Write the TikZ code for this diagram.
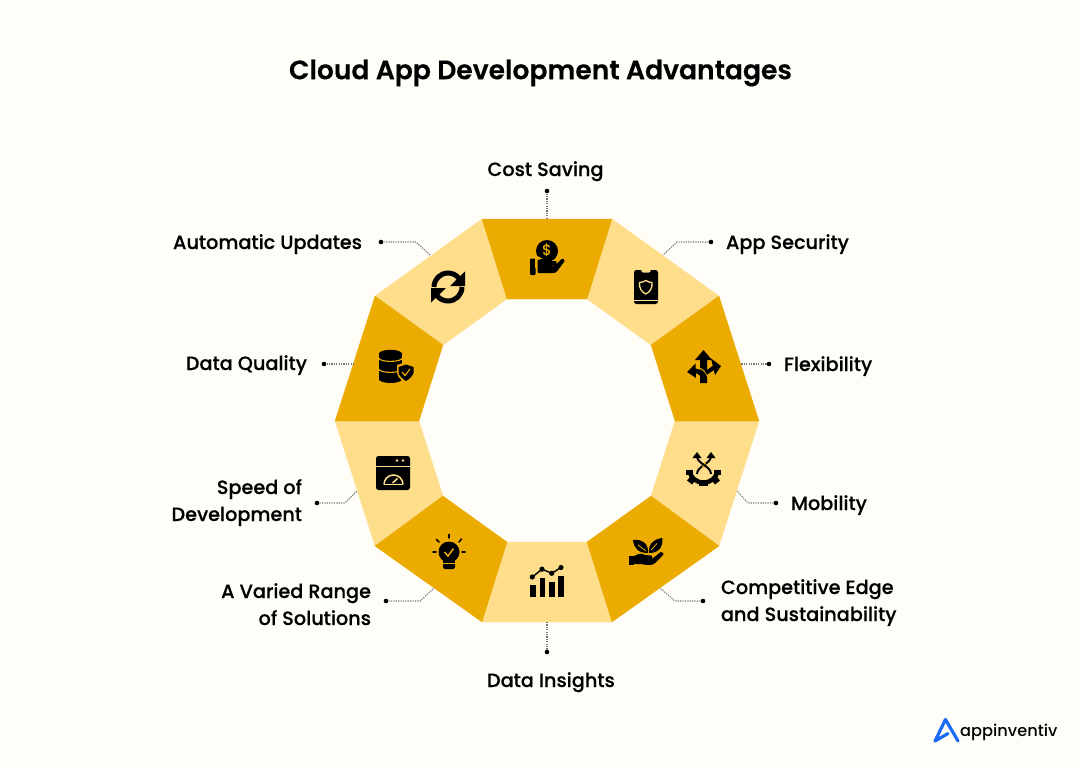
\documentclass[tikz,border=0pt]{standalone}
\usepackage{fontspec}
\setmainfont{Poppins}
\newfontfamily\labfont[FakeBold=0.25]{Poppins Medium}
\newfontfamily\brandfont{Poppins Medium}
\newfontfamily\ttlfont[FakeBold=0.3]{Poppins SemiBold}
\definecolor{bgc}{HTML}{FFFDF7}
\definecolor{darkseg}{HTML}{EBAB00}
\definecolor{lightseg}{HTML}{FEDD8B}
\definecolor{bluelogo}{HTML}{1A6CF6}
\definecolor{leader}{HTML}{777777}
\tikzset{
  x=1pt,y=-1pt,
  lab/.style={font=\labfont\fontsize{19.25}{27}\selectfont,text=black,inner sep=0pt,outer sep=0pt},
  seglight/.style={fill=lightseg,draw=lightseg,line width=0.2pt},
  segdark/.style={fill=darkseg,draw=darkseg,line width=0.2pt},
  pin/.style={circle,fill=black,inner sep=0pt,minimum size=4.6pt},
  leadline/.style={draw=leader,line width=1.1pt,dash pattern=on 1.2pt off 1.2pt},
  ico/.style={fill=black,draw=none},
}
\begin{document}
\begin{tikzpicture}
\useasboundingbox (0,0) rectangle (1080,768);
\fill[bgc] (0,0) rectangle (1080,768);
% ring vertices
\coordinate (o0) at (482,219);\coordinate (o1) at (612,219);\coordinate (o2) at (719,296);
\coordinate (o3) at (759,421);\coordinate (o4) at (719,546);\coordinate (o5) at (612,622);
\coordinate (o6) at (482,622);\coordinate (o7) at (375,546);\coordinate (o8) at (335,421);
\coordinate (o9) at (375,296);
\coordinate (i0) at (507,299);\coordinate (i1) at (587,299);\coordinate (i2) at (651,345);
\coordinate (i3) at (675,421);\coordinate (i4) at (651,496);\coordinate (i5) at (587,542);
\coordinate (i6) at (507,542);\coordinate (i7) at (443,496);\coordinate (i8) at (419,421);
\coordinate (i9) at (443,345);
\path[seglight] (o1)--(o2)--(i2)--(i1)--cycle;
\path[seglight] (o3)--(o4)--(i4)--(i3)--cycle;
\path[seglight] (o5)--(o6)--(i6)--(i5)--cycle;
\path[seglight] (o7)--(o8)--(i8)--(i7)--cycle;
\path[seglight] (o9)--(o0)--(i0)--(i9)--cycle;
\path[segdark] (o0)--(o1)--(i1)--(i0)--cycle;
\path[segdark] (o2)--(o3)--(i3)--(i2)--cycle;
\path[segdark] (o4)--(o5)--(i5)--(i4)--cycle;
\path[segdark] (o6)--(o7)--(i7)--(i6)--cycle;
\path[segdark] (o8)--(o9)--(i9)--(i8)--cycle;
% title
\node[inner sep=0pt,font=\ttlfont\fontsize{26.6}{32}\selectfont,text=black] (title) at (540.5,73) {Cloud App Development Advantages};
% labels
\node[lab,anchor=base] (l0) at (545.5,176) {Cost Saving};
\node[lab,anchor=base west] (l1) at (726,249) {App Security};
\node[lab,anchor=base west] (l2) at (784,371) {Flexibility};
\node[lab,anchor=base west] (l3) at (791,510) {Mobility};
\node[lab,anchor=base west] (l4a) at (721,594) {Competitive Edge};
\node[lab,anchor=base west] (l4b) at (721,621) {and Sustainability};
\node[lab,anchor=base west] (l5) at (487,687) {Data Insights};
\node[lab,anchor=base east] (l6a) at (371,598) {A Varied Range};
\node[lab,anchor=base east] (l6b) at (371,625) {of Solutions};
\node[lab,anchor=base east] (l7a) at (302,494) {Speed of};
\node[lab,anchor=base east] (l7b) at (302,521) {Development};
\node[lab,anchor=base east] (l8) at (307,370) {Data Quality};
\node[lab,anchor=base east] (l9) at (362,249) {Automatic Updates};
% pins
\node[pin] (p0) at (547,191) {};
\node[pin] (p1) at (711,242) {};
\node[pin] (p2) at (769,364) {};
\node[pin] (p3) at (776,503) {};
\node[pin] (p4) at (703,601) {};
\node[pin] (p5) at (547,652) {};
\node[pin] (p6) at (386,601) {};
\node[pin] (p7) at (317,503) {};
\node[pin] (p8) at (324,364) {};
\node[pin] (p9) at (381,242) {};
\coordinate (e0) at (547,219);
\coordinate (b1) at (677,242);\coordinate (e1) at (663,255);
\coordinate (e2) at (741,364);
\coordinate (b3) at (748,503);\coordinate (e3) at (737,491);
\coordinate (b4) at (675,601);\coordinate (e4) at (660,588);
\coordinate (e5) at (547,622);
\coordinate (b6) at (420,601);\coordinate (e6) at (434,588);
\coordinate (b7) at (345,503);\coordinate (e7) at (357,491);
\coordinate (e8) at (353,364);
\coordinate (b9) at (416,242);\coordinate (e9) at (430,255);
\draw[leadline] (p0)--(e0);
\draw[leadline] (p1)--(b1)--(e1);
\draw[leadline] (p2)--(e2);
\draw[leadline] (p3)--(b3)--(e3);
\draw[leadline] (p4)--(b4)--(e4);
\draw[leadline] (p5)--(e5);
\draw[leadline] (p6)--(b6)--(e6);
\draw[leadline] (p7)--(b7)--(e7);
\draw[leadline] (p8)--(e8);
\draw[leadline] (p9)--(b9)--(e9);
% ---- icon: cost saving
\fill[ico] (547,251) circle (11);
\node[inner sep=0pt,text=darkseg,font=\fontsize{15}{15}\selectfont\brandfont] at (547,250.5) {\$};
\fill[ico,rounded corners=1pt] (530,258.5) rectangle (535.7,275);
\fill[darkseg] (535,255) .. controls (540,257) and (548,262) .. (553,262) -- (555,266) -- (535,268) -- cycle;
\fill[ico,rounded corners=0.8pt] (537.5,260) -- (543,258.5) -- (550,261) -- (555,261) .. controls (557,261) and (557,264.5) .. (555,265) -- (548,265.5) -- (555,265.5) -- (561,259.5) .. controls (563.5,258) and (565.5,260) .. (564,262) -- (558,270) .. controls (556.5,272.5) and (555,273) .. (552,273) -- (537.5,273) -- cycle;
% ---- icon: app security
\fill[ico,rounded corners=2.5pt] (634,270) rectangle (658,304);
\fill[lightseg,rounded corners=1pt] (641,269.5) -- (651,269.5) -- (650,272.5) -- (642,272.5) -- cycle;
\fill[lightseg] (634,299.5) rectangle (658,301);
\draw[lightseg,line width=1.3pt] (645.8,280.5) .. controls (648,282) and (650,282.5) .. (652,282.5) .. controls (652.5,288) and (650,292) .. (645.8,294) .. controls (641.5,292) and (639,288) .. (639.5,282.5) .. controls (641.5,282.5) and (643.5,282) .. (645.8,280.5) -- cycle;
% ---- icon: flexibility
\fill[ico] (703.5,350) -- (712,360) -- (707,360) -- (707,383) -- (700,383) -- (700,360) -- (695,360) -- cycle;
\draw[black,line width=4.5pt] (704,381) .. controls (704,375) and (700,370.5) .. (693,370.5);
\draw[darkseg,line width=1.1pt] (708,377) .. controls (706,372) and (702,368) .. (696,367);
\fill[ico] (687,372) -- (695.5,363.5) -- (696,378) -- cycle;
\draw[black,line width=4pt] (706,373) -- (714,367.5);
\fill[ico] (721,366) -- (711,358.5) -- (715,375) -- cycle;
% ---- icon: mobility
\draw[black,line width=2pt] (711,456) .. controls (711,464) and (697,466) .. (697,474);
\draw[darkseg,line width=4.5pt] (703,464.5) -- (705,465.5);
\draw[black,line width=2pt] (697,456) .. controls (697,464) and (711,466) .. (711,474);
\fill[ico] (697,452) -- (701.5,458) -- (692.5,458) -- cycle;
\fill[ico] (711,452) -- (715.5,458) -- (706.5,458) -- cycle;
\draw[black,line width=4.5pt] (690,471) arc (180:0:13.5 and 11.5);
\fill[ico] (686,470) rectangle (693,475);
\fill[ico] (714,470) rectangle (721,475);
\fill[ico] (699,481) rectangle (708,486);
\fill[ico] (690,477) -- (695,481) -- (692,484.5) -- (687,480.5) -- cycle;
\fill[ico] (717,477) -- (712,481) -- (715,484.5) -- (720,480.5) -- cycle;
% ---- icon: refresh
\coordinate (rc) at (448,287);
\draw[black,line width=5pt] (rc) ++(180:14) arc (180:320:14);
\fill[ico] (465,271.5) -- (465,286) -- (450,286) -- cycle;
\draw[black,line width=5pt] (rc) ++(0:14) arc (0:140:14);
\fill[ico] (431,302.5) -- (431,288) -- (446,288) -- cycle;
% ---- icon: data quality
\fill[ico] (390.5,354) ellipse (11.7 and 4.2);
\fill[ico] (378.8,354) rectangle (402.2,379);
\fill[ico] (390.5,379) ellipse (11.7 and 4);
\draw[darkseg,line width=1.1pt] (378.8,358) arc (180:0:11.7 and 3.4);
\draw[darkseg,line width=1.1pt] (378.8,369) arc (180:0:11.7 and 3.4);
\fill[darkseg] (406,362) -- (415,365) -- (415,373) .. controls (414,378) and (410,381) .. (406,383) .. controls (402,381) and (398,378) .. (397,373) -- (397,365) -- cycle;
\fill[ico] (406,364.5) -- (413.5,367) -- (413.5,373) .. controls (412.5,376) and (409.5,379) .. (406,381) .. controls (402.5,379) and (399.5,376) .. (398.5,373) -- (398.5,367) -- cycle;
\draw[darkseg,line width=1.2pt] (402,372) -- (405,375.5) -- (410,369);
% ---- icon: speed
\fill[ico,rounded corners=2.5pt] (376,456) rectangle (410,490);
\fill[lightseg] (376,465.5) rectangle (410,466.5);
\fill[lightseg] (397,460.5) circle (1.3) (403,460.5) circle (1.3);
\draw[lightseg,line width=1.5pt] (384,484.5) arc (180:360:9.5);
\draw[lightseg,line width=1.5pt] (384,484.5) -- (403,484.5);
\draw[lightseg,line width=1.5pt] (392.5,483) -- (397.5,478.5);
% ---- icon: bulb
\fill[ico] (449,552) circle (10.5);
\fill[ico] (443,558) rectangle (455,564);
\fill[ico,rounded corners=2pt] (443,563) -- (455,563) -- (455,569) -- (443,569) -- cycle;
\fill[darkseg] (443,562.5) rectangle (455,563.3);
\draw[darkseg,line width=1.5pt] (444.5,552) -- (448,556) -- (453.5,548.5);
\draw[black,line width=1.5pt,line cap=round] (449,534.5) -- (449,538);
\draw[black,line width=1.5pt,line cap=round] (436.5,539.5) -- (439,542);
\draw[black,line width=1.5pt,line cap=round] (461.5,539) -- (459,542);
\draw[black,line width=1.5pt,line cap=round] (433,552) -- (436,552);
\draw[black,line width=1.5pt,line cap=round] (462,552) -- (465,552);
% ---- icon: chart
\fill[ico] (530,585) rectangle (535.7,597);
\fill[ico] (539.5,578) rectangle (545.2,597);
\fill[ico] (549,582) rectangle (554.7,597);
\fill[ico] (558.3,576) rectangle (564,597);
\draw[black,line width=1.4pt] (532.3,577) -- (542,569.2) -- (551.7,573.3) -- (561,567.5);
\fill[ico] (532.3,577) circle (2.6) (542,569.2) circle (2.6) (551.7,573.3) circle (2.6) (561,567.5) circle (2.6);
% ---- icon: plant
\fill[ico] (629,555.5) rectangle (634,564.5);
\fill[ico,rounded corners=0.8pt] (634,556) -- (640,553.5) -- (646,555) -- (651,555.5) .. controls (652.5,556) and (652.5,558.5) .. (651,559) -- (652,559) -- (660,552.5) .. controls (662,551.5) and (664,553.5) .. (663,555) -- (656,562) .. controls (654,564.5) and (652,565) .. (648,565) -- (640,564) -- (634,564) -- cycle;
\fill[ico] (633,540) .. controls (641,539) and (649,543) .. (648,553) .. controls (639,553) and (634,549) .. (633,540) -- cycle;
\fill[ico] (662.5,538) .. controls (663,548) and (658,553) .. (649,553) .. controls (648,544) and (654,539) .. (662.5,538) -- cycle;
\draw[darkseg,line width=0.8pt] (638,545) -- (646,551);
\draw[darkseg,line width=0.8pt] (657,543.5) -- (651,550);
% ---- logo
\coordinate (la) at (945.5,719.5);
\coordinate (lb) at (935,741);
\coordinate (lc) at (958,741);
\coordinate (ld) at (948,733.5);
\draw[bluelogo,line width=3.2pt,line cap=round,line join=round] (lc)--(la)--(lb)--(ld);
\node[inner sep=0pt,anchor=base west,font=\brandfont\fontsize{16.2}{20}\selectfont,text=black] (brand) at (960,736.5) {appinventiv};
\end{tikzpicture}
\end{document}
